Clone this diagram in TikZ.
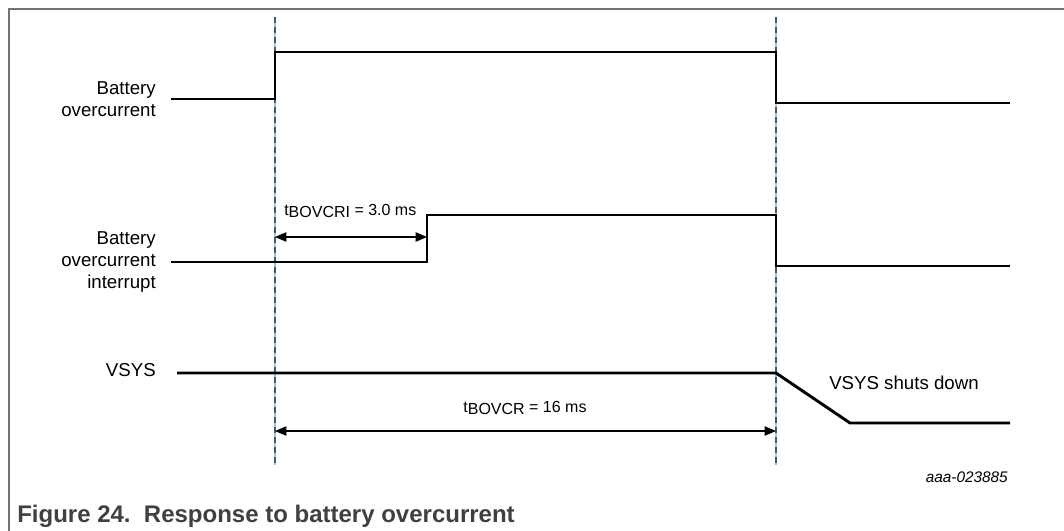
\documentclass[tikz,border=0pt]{standalone}
\usepackage{fontspec}
\setmainfont{Liberation Sans}
\usetikzlibrary{arrows.meta, positioning}

\definecolor{markblue}{RGB}{150,200,235}
\definecolor{markgray}{RGB}{70,90,105}
\definecolor{framegray}{RGB}{115,115,115}
\definecolor{captiongray}{RGB}{64,64,64}

\tikzset{
  signal/.style={line width=2.2pt, line join=miter},
  markerback/.style={markblue, line width=1.4pt},
  markerfront/.style={markgray, line width=0.8pt, dash pattern=on 4.5pt off 3pt},
  timing/.style={line width=0.8pt, {Triangle[length=8.5pt,width=7pt]}-{Triangle[length=8.5pt,width=7pt]}},
  siglabel/.style={anchor=east, align=right, inner sep=0pt, font=\fontsize{14}{16.5}\selectfont},
  timelabel/.style={inner sep=0pt, font=\fontsize{12}{14}\selectfont},
}
\newcommand{\tsub}[1]{t\raisebox{-2.2pt}{#1}}

\begin{document}
\begin{tikzpicture}[x=0.75pt, y=-0.75pt]
  \useasboundingbox (0,0) rectangle (1064,531);
  % frame
  \draw[framegray, line width=1.1pt] (9,531) -- (9,9) -- (1064,9);
  % time markers
  \coordinate (m1t) at (275,17);
  \coordinate (m1b) at (275,465);
  \coordinate (m2t) at (776,17);
  \coordinate (m2b) at (776,465);
  \foreach \m in {m1,m2} {
    \draw[markerback] (\m t) -- (\m b);
    \draw[markerfront] (\m t) -- (\m b);
  }

  % battery overcurrent
  \node[siglabel] (boc) at (156,99) {Battery\\overcurrent};
  \draw[signal] (171,99) -- (275,99) -- (275,52) -- (776,52) -- (776,103) -- (1010,103);

  % battery overcurrent interrupt
  \node[siglabel] (bocint) at (156,262) {Battery\\overcurrent\\interrupt};
  \draw[signal] (171,262) -- (427,262) -- (427,215) -- (776,215) -- (776,266) -- (1010,266);
  \coordinate (ta) at (275,237);
  \coordinate (tb) at (427,237);
  \draw[timing] (ta) -- (tb);
  \node[timelabel, anchor=base west] (tbovcri) at (284,215) {\tsub{BOVCRI} = 3.0 ms};

  % VSYS
  \node[siglabel] (vsys) at (156,370) {VSYS};
  \draw[signal] (177,373) -- (776,373) -- (850,423) -- (1010,423);
  \node[anchor=west, inner sep=0pt, font=\fontsize{14}{16.5}\selectfont] (shut) at (829,383) {VSYS shuts down};
  \coordinate (tc) at (275,431);
  \coordinate (td) at (776,431);
  \draw[timing] (tc) -- (td);
  \node[timelabel, anchor=base] (tbovcr) at (525,412) {\tsub{BOVCR} = 16 ms};

  % figure id and caption
  \node[anchor=east, inner sep=0pt, font=\fontsize{11.5}{13}\selectfont\itshape] (figid) at (1008,477) {aaa-023885};
  \node[anchor=base west, inner sep=0pt, text=captiongray, font=\fontsize{18}{21}\selectfont\bfseries] (caption) at (17,522) {Figure 24.\ \ Response to battery overcurrent};
\end{tikzpicture}
\end{document}
